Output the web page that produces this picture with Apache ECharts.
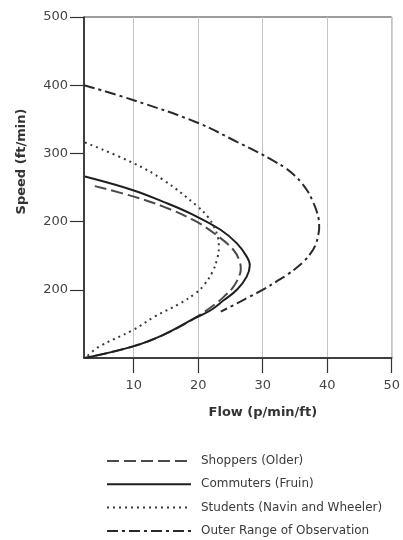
<!DOCTYPE html>
<html>
<head>
<meta charset="utf-8">
<script src="https://cdn.jsdelivr.net/npm/echarts@6/dist/echarts.min.js"></script>
<style>
  html, body { margin: 0; padding: 0; background: #fff; }
  #chart { width: 403px; height: 540px; }
</style>
</head>
<body>
<div id="chart"></div>
<script>
// Pedestrian speed-flow relationships
const seriesNames = [
  'Shoppers (Older)',
  'Commuters (Fruin)',
  'Students (Navin and Wheeler)',
  'Outer Range of Observation'
];

// Flow (p/min/ft) and speed (ft/min), traced from the upper branch round to the lower one
const shoppersFlow  = [3.97, 9.9, 14.6, 19.3, 22.46, 25.5, 26.5, 26.6, 26.5, 25.5, 24.0, 22.5, 19.4, 14.6, 9.9, 2.45];
const shoppersSpeed = [252, 237, 222, 202, 183, 158, 139, 131, 124, 105, 90, 78, 58, 34, 17, 0];

const commutersFlow  = [2.45, 9.9, 14.6, 19.0, 23.46, 26.0, 27.5, 28.0, 27.5, 26.0, 24.0, 21.94, 19.4, 14.6, 9.9, 2.45];
const commutersSpeed = [266, 246, 229, 211, 188, 168, 149, 136, 119, 100, 85, 70, 58, 34, 17, 0];

const studentsFlow  = [2.45, 9.9, 14.6, 19.7, 21.5, 22.46, 23.1, 23.2, 22.96, 22.2, 20.9, 19.6, 17.0, 13.3, 9.9, 4.7, 2.7];
const studentsSpeed = [316, 286, 261, 224, 207, 192, 175, 163, 146, 126, 107, 95, 79, 61, 41, 17, 2];

const outerFlow  = [2.3, 10.0, 19.9, 26.0, 29.2, 31.5, 33.6, 35.0, 36.1, 37.0, 37.65, 38.3, 38.7, 38.75, 38.6, 38.15, 37.4, 36.4, 35.2, 33.8, 32.1, 30.4, 28.0, 26.0, 23.5];
const outerSpeed = [400, 378, 345, 317, 302, 290, 278, 267, 256, 244, 232, 217, 202, 190, 180, 165, 153, 142, 132, 122, 112, 102, 90, 80, 68];

const flowTicks = [10, 20, 30, 40, 50];
const speedTicks = [100, 200, 300, 400, 500];
const speedTickLabels = ['200', '200', '300', '400', '500'];

const zip = (xs, ys) => xs.map((x, i) => [x, ys[i]]);

const font = 'DejaVu Sans, Verdana, sans-serif';

const chart = echarts.init(document.getElementById('chart'), null, { renderer: 'canvas' });

function curve(name, xs, ys, type, color, width) {
  return {
    name: name,
    type: 'line',
    data: zip(xs, ys),
    smooth: 0.4,
    symbol: 'none',
    animation: false,
    lineStyle: { color: color, width: width, type: type, cap: 'butt' },
    itemStyle: { color: color }
  };
}

chart.setOption({
  backgroundColor: '#fff',
  animation: false,
  grid: {
    left: 84, right: 5, top: 17, bottom: 182,
    show: true, borderColor: '#3a3a3a', borderWidth: 1, backgroundColor: 'transparent'
  },
  xAxis: {
    type: 'value',
    min: 2.3, max: 50,
    name: 'Flow (p/min/ft)',
    nameLocation: 'middle',
    nameGap: 48,
    nameTextStyle: { fontFamily: font, fontSize: 13, fontWeight: 'bold', color: '#333', padding: [0, 0, 0, 50] },
    axisLine: { show: true, lineStyle: { color: '#222', width: 1.5 } },
    axisTick: { show: true, inside: false, length: 15, customValues: flowTicks, lineStyle: { color: '#333', width: 1.2 } },
    axisLabel: { customValues: flowTicks, margin: 21, fontFamily: font, fontSize: 13, color: '#444' },
    splitLine: { show: true, lineStyle: { color: '#c4c4c4', width: 1 } }
  },
  yAxis: {
    type: 'value',
    min: 0, max: 500,
    name: 'Speed (ft/min)',
    nameLocation: 'middle',
    nameGap: 56,
    nameRotate: 90,
    nameTextStyle: { fontFamily: font, fontSize: 13, fontWeight: 'bold', color: '#333', padding: [0, 0, 0, 52] },
    axisLine: { show: true, lineStyle: { color: '#222', width: 1.5 } },
    axisTick: { show: true, inside: false, length: 14, customValues: speedTicks, lineStyle: { color: '#333', width: 1.2 } },
    axisLabel: {
      customValues: speedTicks, margin: 16, fontFamily: font, fontSize: 13, color: '#444',
      formatter: v => speedTickLabels[speedTicks.indexOf(v)] || ''
    },
    splitLine: { show: false }
  },
  legend: {
    orient: 'vertical',
    left: 106, top: 455,
    padding: 0,
    itemWidth: 84, itemHeight: 14, itemGap: 11.3,
    itemStyle: { opacity: 0 },
    selectedMode: false,
    data: seriesNames,
    textStyle: { fontFamily: font, fontSize: 12, color: '#3a3a3a', padding: [0, 0, 0, 5] }
  },
  series: [
    curve(seriesNames[0], shoppersFlow, shoppersSpeed, [12, 5], '#4a4a4a', 2),
    curve(seriesNames[1], commutersFlow, commutersSpeed, 'solid', '#1e1e1e', 2),
    curve(seriesNames[2], studentsFlow, studentsSpeed, [2, 4], '#3a3a3a', 2),
    curve(seriesNames[3], outerFlow, outerSpeed, [11, 4, 3, 4], '#2a2a2a', 2)
  ]
});
</script>
</body>
</html>
